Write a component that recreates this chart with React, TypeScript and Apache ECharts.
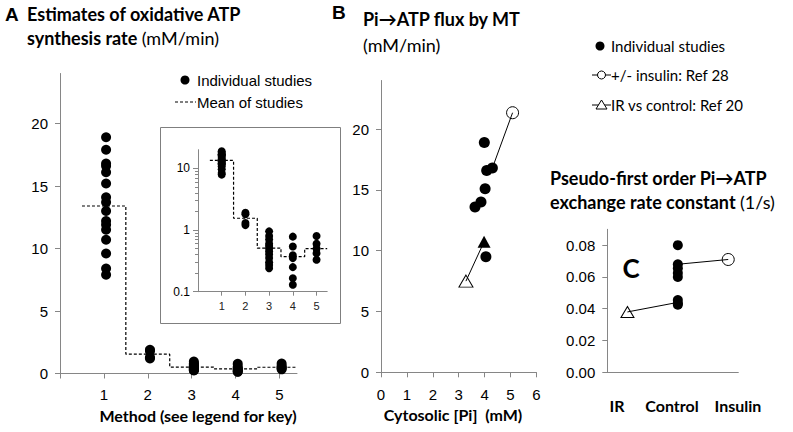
import React, { useEffect, useRef } from "react";
import * as echarts from "echarts";

// ---------- Panel A data ----------
const methods = [1, 2, 3, 4, 5];
const method1 = [18.9, 17.9, 16.8, 16.6, 16.1, 15.2, 14.1, 13.7, 13.0, 12.2, 11.9, 11.5, 10.7, 9.6, 8.4, 7.9];
const method2 = [1.9, 1.8, 1.3, 1.2];
const method3 = [0.95, 0.8, 0.7, 0.6, 0.55, 0.5, 0.45, 0.4, 0.35, 0.3, 0.27, 0.24];
const method4 = [0.78, 0.54, 0.39, 0.35, 0.25, 0.165, 0.13];
const method5 = [0.8, 0.6, 0.5, 0.42, 0.33];
const methodRates = [method1, method2, method3, method4, method5];
const methodMeans = [13.4, 1.55, 0.51, 0.37, 0.5];
const meanEdges = [0.5, 1.5, 2.5, 3.5, 4.5, 5.4];
const rateTicks = [0, 5, 10, 15, 20];
const methodTicks = [0, 1, 2, 3, 4, 5];
const insetTicks = [0.1, 1, 10];

// ---------- Panel B data ----------
const studiesPi = [3.99, 4.08, 4.3, 4.02, 3.63, 3.86, 4.05];
const studiesFlux = [18.9, 16.6, 16.8, 15.1, 13.6, 14.0, 9.5];
const insulinPi = [4.3, 5.08]; // control, +insulin (Ref 28)
const insulinFlux = [16.8, 21.35];
const irPi = [3.28, 3.98]; // IR, control (Ref 20)
const irFlux = [7.5, 10.74];
const piTicks = [0, 1, 2, 3, 4, 5, 6];

// ---------- Panel C data ----------
const groupsC = ["IR", "Control", "Insulin"];
const controlK = [0.08, 0.068, 0.0655, 0.0625, 0.06, 0.0455, 0.0435, 0.0425];
const insulinPairK = [0.068, 0.071]; // control, insulin
const irPairK = [0.038, 0.044]; // IR, control
const kTicks = [0, 0.02, 0.04, 0.06, 0.08];

const GRAY = "#868686";
const ARIAL = "Liberation Sans, Arial, sans-serif";
const CAL = "Lato, Carlito, sans-serif";

function axisBase(extra: any) {
  return {
    splitLine: { show: false },
    axisLine: { show: true, onZero: false, lineStyle: { color: GRAY, width: 1 } },
    axisTick: { show: true, length: 5, lineStyle: { color: GRAY } },
    axisLabel: { color: "#000", fontFamily: ARIAL, fontSize: 15 },
    ...extra,
  };
}

function stepLine(means: number[], edges: number[]) {
  const pts: number[][] = [];
  means.forEach((m, i) => {
    pts.push([edges[i], m]);
    pts.push([edges[i + 1], m]);
  });
  return pts;
}

function txt(text: string, x: number, y: number, font: string, align = "left", extra: any = {}) {
  return {
    type: "text",
    x,
    y,
    silent: true,
    style: {
      text,
      font,
      fill: "#000",
      align,
      verticalAlign: "middle",
      textAlign: align,
      textVerticalAlign: "middle",
      ...extra,
    },
  };
}

export default function App() {
  const ref = useRef<HTMLDivElement>(null);
  useEffect(() => {
    if (!ref.current) return;
    const chart = echarts.init(ref.current, undefined, { renderer: "svg" });

    const mainA: number[][] = [];
    const insetA: number[][] = [];
    methodRates.forEach((arr, i) => {
      arr.forEach((v) => {
        mainA.push([methods[i] + 0.05, v]);
        insetA.push([methods[i], v]);
      });
    });
    const meanMain = stepLine(methodMeans, meanEdges);
    const insetEdges = meanEdges.slice(0, 5).concat([5.45]);
    const meanInset = stepLine(methodMeans, insetEdges);

    const studiesB = studiesPi.map((p, i) => [p, studiesFlux[i]]);
    const insulinB = insulinPi.map((p, i) => [p, insulinFlux[i]]);
    const irB = irPi.map((p, i) => [p, irFlux[i]]);

    const ctrlIdx = groupsC.indexOf("Control");
    const irIdx = groupsC.indexOf("IR");
    const insIdx = groupsC.indexOf("Insulin");
    const controlC = controlK.map((k) => [ctrlIdx, k]);
    const insLineC = [[ctrlIdx, insulinPairK[0]], [insIdx, insulinPairK[1]]];
    const irLineC = [[irIdx, irPairK[0]], [ctrlIdx, irPairK[1]]];

    const dot = (size: number) => ({ symbol: "circle", symbolSize: size, itemStyle: { color: "#000", opacity: 1 } });
    const openSym = (sym: string, size: any) => ({
      symbol: sym,
      symbolSize: size,
      itemStyle: { color: "#fff", borderColor: "#000", borderWidth: 1, opacity: 1 },
    });
    const blackLine = { color: "#000", width: 1 };

    const option: any = {
      animation: false,
      grid: [
        { left: 60, top: 73.5, width: 237, height: 300 },
        { left: 198, top: 149.7, width: 129.2, height: 142 },
        { left: 381, top: 80.5, width: 155.4, height: 291.8 },
        { left: 607.3, top: 229.3, width: 131, height: 143 },
      ],
      xAxis: [
        axisBase({
          type: "value", gridIndex: 0, min: 0, max: 5.4,
          axisTick: { show: true, length: 5, lineStyle: { color: GRAY }, customValues: methodTicks },
          axisLabel: { color: "#000", fontFamily: ARIAL, fontSize: 15, margin: 13, customValues: methods },
        }),
        axisBase({
          type: "value", gridIndex: 1, min: 0, max: 5.45,
          axisTick: { show: true, length: 4, lineStyle: { color: GRAY }, customValues: methods },
          axisLabel: { color: "#222", fontFamily: ARIAL, fontSize: 11, margin: 9, customValues: methods },
        }),
        axisBase({
          type: "value", gridIndex: 2, min: 0, max: 6, interval: 1,
          axisTick: { show: true, length: 5, lineStyle: { color: GRAY }, customValues: piTicks },
          axisLabel: { color: "#000", fontFamily: ARIAL, fontSize: 15, margin: 15, customValues: piTicks },
        }),
        axisBase({
          type: "value", gridIndex: 3, min: -0.4, max: 2.2,
          axisTick: { show: false },
          axisLabel: { show: false },
        }),
      ],
      yAxis: [
        axisBase({
          type: "value", gridIndex: 0, min: 0, max: 24,
          axisTick: { show: true, length: 5, lineStyle: { color: GRAY }, customValues: rateTicks },
          axisLabel: { color: "#000", fontFamily: ARIAL, fontSize: 15, margin: 12, customValues: rateTicks },
        }),
        axisBase({
          type: "log", logBase: 10, gridIndex: 1, min: 0.1, max: 20,
          axisTick: { show: true, length: 5, lineStyle: { color: GRAY }, customValues: insetTicks },
          minorTick: { show: true, splitNumber: 9, length: 3, lineStyle: { color: GRAY } },
          axisLabel: {
            color: "#000", fontFamily: ARIAL, fontSize: 12, margin: 8, customValues: insetTicks,
            formatter: (v: number) => String(Math.round(v * 10) / 10),
          },
        }),
        axisBase({
          type: "value", gridIndex: 2, min: 0, max: 24,
          axisTick: { show: true, length: 5, lineStyle: { color: GRAY }, customValues: rateTicks },
          axisLabel: { color: "#000", fontFamily: ARIAL, fontSize: 15, margin: 12, customValues: rateTicks },
        }),
        axisBase({
          type: "value", gridIndex: 3, min: 0, max: 0.09,
          axisTick: { show: true, length: 5, lineStyle: { color: GRAY }, customValues: kTicks },
          axisLabel: {
            color: "#000", fontFamily: ARIAL, fontSize: 15, margin: 12, customValues: kTicks,
            formatter: (v: number) => v.toFixed(2),
          },
        }),
      ],
      series: [
        { type: "line", xAxisIndex: 0, yAxisIndex: 0, data: meanMain, symbol: "none", silent: true,
          lineStyle: { color: "#000", width: 1.2, type: [3, 2] } },
        { type: "scatter", xAxisIndex: 0, yAxisIndex: 0, data: mainA, silent: true, ...dot(10) },
        { type: "line", xAxisIndex: 1, yAxisIndex: 1, data: meanInset, symbol: "none", silent: true,
          lineStyle: { color: "#000", width: 1.2, type: [3, 2] } },
        { type: "scatter", xAxisIndex: 1, yAxisIndex: 1, data: insetA, silent: true, ...dot(8) },

        { type: "line", xAxisIndex: 2, yAxisIndex: 2, data: insulinB, symbol: "none", silent: true, lineStyle: blackLine },
        { type: "line", xAxisIndex: 2, yAxisIndex: 2, data: irB, symbol: "none", silent: true, lineStyle: blackLine },
        { type: "scatter", xAxisIndex: 2, yAxisIndex: 2, data: studiesB, silent: true, ...dot(11) },
        { type: "scatter", xAxisIndex: 2, yAxisIndex: 2, data: [insulinB[1]], silent: true, ...openSym("circle", 12) },
        { type: "scatter", xAxisIndex: 2, yAxisIndex: 2, data: [irB[0]], silent: true, ...openSym("triangle", [14, 12]) },
        { type: "scatter", xAxisIndex: 2, yAxisIndex: 2, data: [irB[1]], silent: true,
          symbol: "triangle", symbolSize: [13, 12], itemStyle: { color: "#000", opacity: 1 } },

        { type: "line", xAxisIndex: 3, yAxisIndex: 3, data: insLineC, symbol: "none", silent: true, lineStyle: blackLine },
        { type: "line", xAxisIndex: 3, yAxisIndex: 3, data: irLineC, symbol: "none", silent: true, lineStyle: blackLine },
        { type: "scatter", xAxisIndex: 3, yAxisIndex: 3, data: controlC, silent: true, ...dot(10) },
        { type: "scatter", xAxisIndex: 3, yAxisIndex: 3, data: [insLineC[1]], silent: true, ...openSym("circle", 12) },
        { type: "scatter", xAxisIndex: 3, yAxisIndex: 3, data: [irLineC[0]], silent: true, ...openSym("triangle", [13, 11]) },
      ],
      graphic: [
        { type: "rect", z: -10, silent: true, shape: { x: 160.5, y: 127.5, width: 180, height: 196 },
          style: { fill: "#fff", stroke: "#7f7f7f", lineWidth: 1 } },
        // Panel A titles
        txt("A", 5, 14, `bold 19px ${ARIAL}`),
        txt("Estimates of oxidative ATP", 27, 14, `bold 18px ${CAL}`),
        txt("{b|synthesis rate} {r|(mM/min)}", 27, 38, `bold 18px ${CAL}`, "left", {
          rich: { b: { font: `bold 18px ${CAL}`, fill: "#000" }, r: { font: `18px ${CAL}`, fill: "#000" } },
        }),
        // Panel A legend
        { type: "circle", silent: true, shape: { cx: 185, cy: 80, r: 4.5 }, style: { fill: "#000" } },
        txt("Individual studies", 197, 80, `15px ${ARIAL}`),
        { type: "line", silent: true, shape: { x1: 175, y1: 102, x2: 196, y2: 102 },
          style: { stroke: "#000", lineWidth: 1.2, lineDash: [3, 2] } },
        txt("Mean of studies", 197, 102, `15px ${ARIAL}`),
        txt("Method (see legend for key)", 198, 415, `bold 16px ${CAL}`, "center"),

        // Panel B titles
        txt("B", 332, 12, `bold 19px ${ARIAL}`),
        txt("Pi\u2192ATP flux by MT", 363, 19, `bold 18px ${CAL}`),
        txt("(mM/min)", 363, 45, `18px ${CAL}`),
        txt("Cytosolic [Pi]  (mM)", 453, 414, `bold 16px ${CAL}`, "center"),
        // Panel B legend
        { type: "circle", silent: true, shape: { cx: 600, cy: 46, r: 4.5 }, style: { fill: "#000" } },
        txt("Individual studies", 611, 46, `15px ${CAL}`),
        { type: "line", silent: true, shape: { x1: 592, y1: 75, x2: 611, y2: 75 }, style: { stroke: "#000", lineWidth: 1 } },
        { type: "circle", silent: true, shape: { cx: 601.5, cy: 75, r: 4 }, style: { fill: "#fff", stroke: "#000", lineWidth: 1 } },
        txt("+/- insulin: Ref 28", 611, 75, `15px ${CAL}`),
        { type: "line", silent: true, shape: { x1: 592, y1: 105, x2: 611, y2: 105 }, style: { stroke: "#000", lineWidth: 1 } },
        { type: "polygon", silent: true, shape: { points: [[596, 109], [607, 109], [601.5, 100]] },
          style: { fill: "#fff", stroke: "#000", lineWidth: 1 } },
        txt("IR vs control: Ref 20", 611, 105, `15px ${CAL}`),

        // Panel C titles
        txt("Pseudo-first order Pi\u2192ATP", 550, 178, `bold 18px ${CAL}`),
        txt("{b|exchange rate constant} {r|(1/s)}", 550, 202, `bold 18px ${CAL}`, "left", {
          rich: { b: { font: `bold 18px ${CAL}`, fill: "#000" }, r: { font: `18px ${CAL}`, fill: "#000" } },
        }),
        txt("C", 631, 268, `bold 26px ${CAL}`, "center"),
        txt(groupsC[0], 617, 405, `bold 16px ${CAL}`, "center"),
        txt(groupsC[1], 672, 405, `bold 16px ${CAL}`, "center"),
        txt(groupsC[2], 738, 405, `bold 16px ${CAL}`, "center"),
      ],
    };
    chart.setOption(option);
    return () => chart.dispose();
  }, []);
  return (
    <div
      ref={ref}
      style={{ position: "fixed", left: 0, top: 0, width: 793, height: 432, background: "#fff" }}
    />
  );
}
